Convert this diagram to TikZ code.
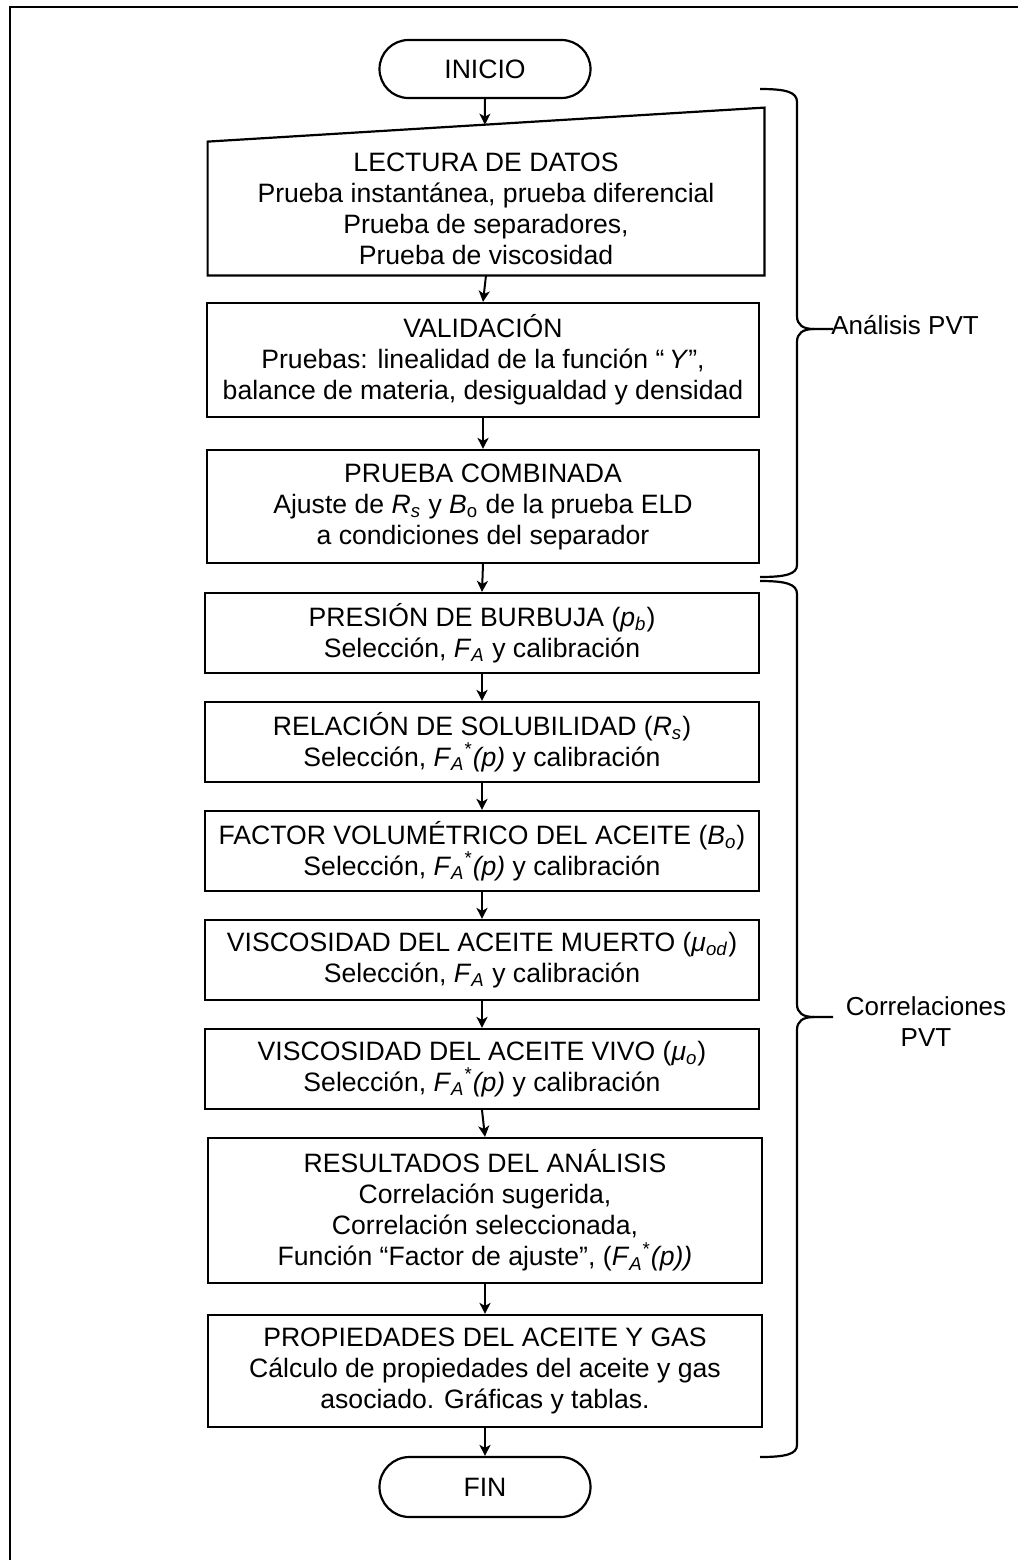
\documentclass[tikz,border=0pt]{standalone}
\usepackage{fontspec}
\setmainfont{Liberation Sans}
\usetikzlibrary{arrows.meta,shapes.misc,calc}

% factor de ajuste symbols
\newcommand{\FAsym}{\textit{F}\textsubscript{\textit{A}}}
\newcommand{\FAfun}{\textit{F}\textsubscript{\textit{A}}\textsuperscript{*}\textit{(p)}}

\tikzset{
  txt/.style={font=\fontsize{13pt}{15.5pt}\selectfont, align=center, inner sep=0pt},
  boxtxt/.style={font=\fontsize{13.3pt}{15.5pt}\selectfont, align=center, inner sep=0pt},
  dims/.style 2 args={minimum width=0.5pt*#1, minimum height=0.5pt*#2},
  procbox/.style={draw, line width=1.1pt, boxtxt},
  termbox/.style={draw, line width=1.1pt, boxtxt, rounded rectangle},
  flow/.style={line width=1pt, -{Stealth[length=5.5pt,width=5.5pt,inset=1.5pt]}},
  bracket/.style={line width=1.1pt},
  frameline/.style={line width=1.2pt}
}

\begin{document}
\begin{tikzpicture}[x=0.5pt,y=-0.5pt]
\useasboundingbox (0,0) rectangle (1018,1560);

% page frame
\draw[frameline] (10,1560) -- (10,7) -- (1018,7);

% start
\node[termbox, dims={211}{58}] (ini) at (485,69) {INICIO};

% data input (manual input shape)
\node[boxtxt, dims={556}{133}] (lect) at (486,208.5)
  {LECTURA DE DATOS\\Prueba instantánea, prueba diferencial\\Prueba de separadores,\\Prueba de viscosidad};
\coordinate (lectNE) at ([yshift=17pt]lect.north east);
\draw[line width=1.1pt] (lect.north west) -- (lectNE) -- (lect.south east) -- (lect.south west) -- cycle;
\coordinate (lecttop) at ($(lect.north west)!0.498!(lectNE)$);

\node[procbox, dims={552}{114}] (val) at (483,360)
  {VALIDACIÓN\\Pruebas: linealidad de la función “\,\textit{Y}”,\\balance de materia, desigualdad y densidad};

\node[procbox, dims={552}{113}] (comb) at (483,506.5)
  {PRUEBA COMBINADA\\Ajuste de \textit{R}\textsubscript{\textit{s}} y \textit{B}\textsubscript{o} de la prueba ELD\\a condiciones del separador};

\node[procbox, dims={554}{80}] (pb) at (482,633)
  {PRESIÓN DE BURBUJA (\textit{p}\textsubscript{\textit{b}})\\Selección, \FAsym{} y calibración};

\node[procbox, dims={554}{80}] (rs) at (482,742)
  {RELACIÓN DE SOLUBILIDAD (\textit{R}\textsubscript{\textit{s}})\\Selección, \FAfun{} y calibración};

\node[procbox, dims={554}{80}] (bo) at (482,851)
  {FACTOR VOLUMÉTRICO DEL ACEITE (\textit{B}\textsubscript{\textit{o}})\\Selección, \FAfun{} y calibración};

\node[procbox, dims={554}{80}] (uod) at (482,960)
  {VISCOSIDAD DEL ACEITE MUERTO (\textit{μ}\textsubscript{\textit{od}})\\Selección, \FAsym{} y calibración};

\node[procbox, dims={554}{80}] (uo) at (482,1069)
  {VISCOSIDAD DEL ACEITE VIVO (\textit{μ}\textsubscript{\textit{o}})\\Selección, \FAfun{} y calibración};

\node[procbox, dims={554}{145}] (res) at (485,1210.5)
  {RESULTADOS DEL ANÁLISIS\\Correlación sugerida,\\Correlación seleccionada,\\Función “Factor de ajuste”, (\FAsym\textsuperscript{*}\textit{(p))}};

\node[procbox, dims={554}{112}] (prop) at (485,1371)
  {PROPIEDADES DEL ACEITE Y GAS\\Cálculo de propiedades del aceite y gas\\asociado. Gráficas y tablas.};

% end
\node[termbox, dims={211}{60}] (fin) at (485,1487) {FIN};

% flow
\draw[flow] (ini.south) -- (lecttop);
\draw[flow] (lect.south) -- (val.north);
\draw[flow] (val.south) -- (comb.north);
\draw[flow] (comb.south) -- (pb.north);
\draw[flow] (pb.south) -- (rs.north);
\draw[flow] (rs.south) -- (bo.north);
\draw[flow] (bo.south) -- (uod.north);
\draw[flow] (uod.south) -- (uo.north);
\draw[flow] (uo.south) -- (res.north);
\draw[flow] (res.south) -- (prop.north);
\draw[flow] (prop.south) -- (fin.north);

% group braces
\draw[bracket] (760,89) .. controls (786,89) and (797,92) .. (797,102) -- (797,316)
  .. controls (797,325) and (803,329) .. (814,329) -- (833,329);
\draw[bracket] (814,329) .. controls (803,329) and (797,333) .. (797,342) -- (797,565)
  .. controls (797,574) and (786,577) .. (760,577);
\node[txt, anchor=base west] (lblA) at (831,334) {Análisis PVT};

\draw[bracket] (760,581) .. controls (786,581) and (797,584) .. (797,594) -- (797,1004)
  .. controls (797,1013) and (803,1017) .. (814,1017) -- (833,1017);
\draw[bracket] (814,1017) .. controls (803,1017) and (797,1021) .. (797,1030) -- (797,1445)
  .. controls (797,1454) and (786,1457) .. (760,1457);
\node[txt] (lblC) at (926,1022) {Correlaciones\\PVT};
\end{tikzpicture}
\end{document}
